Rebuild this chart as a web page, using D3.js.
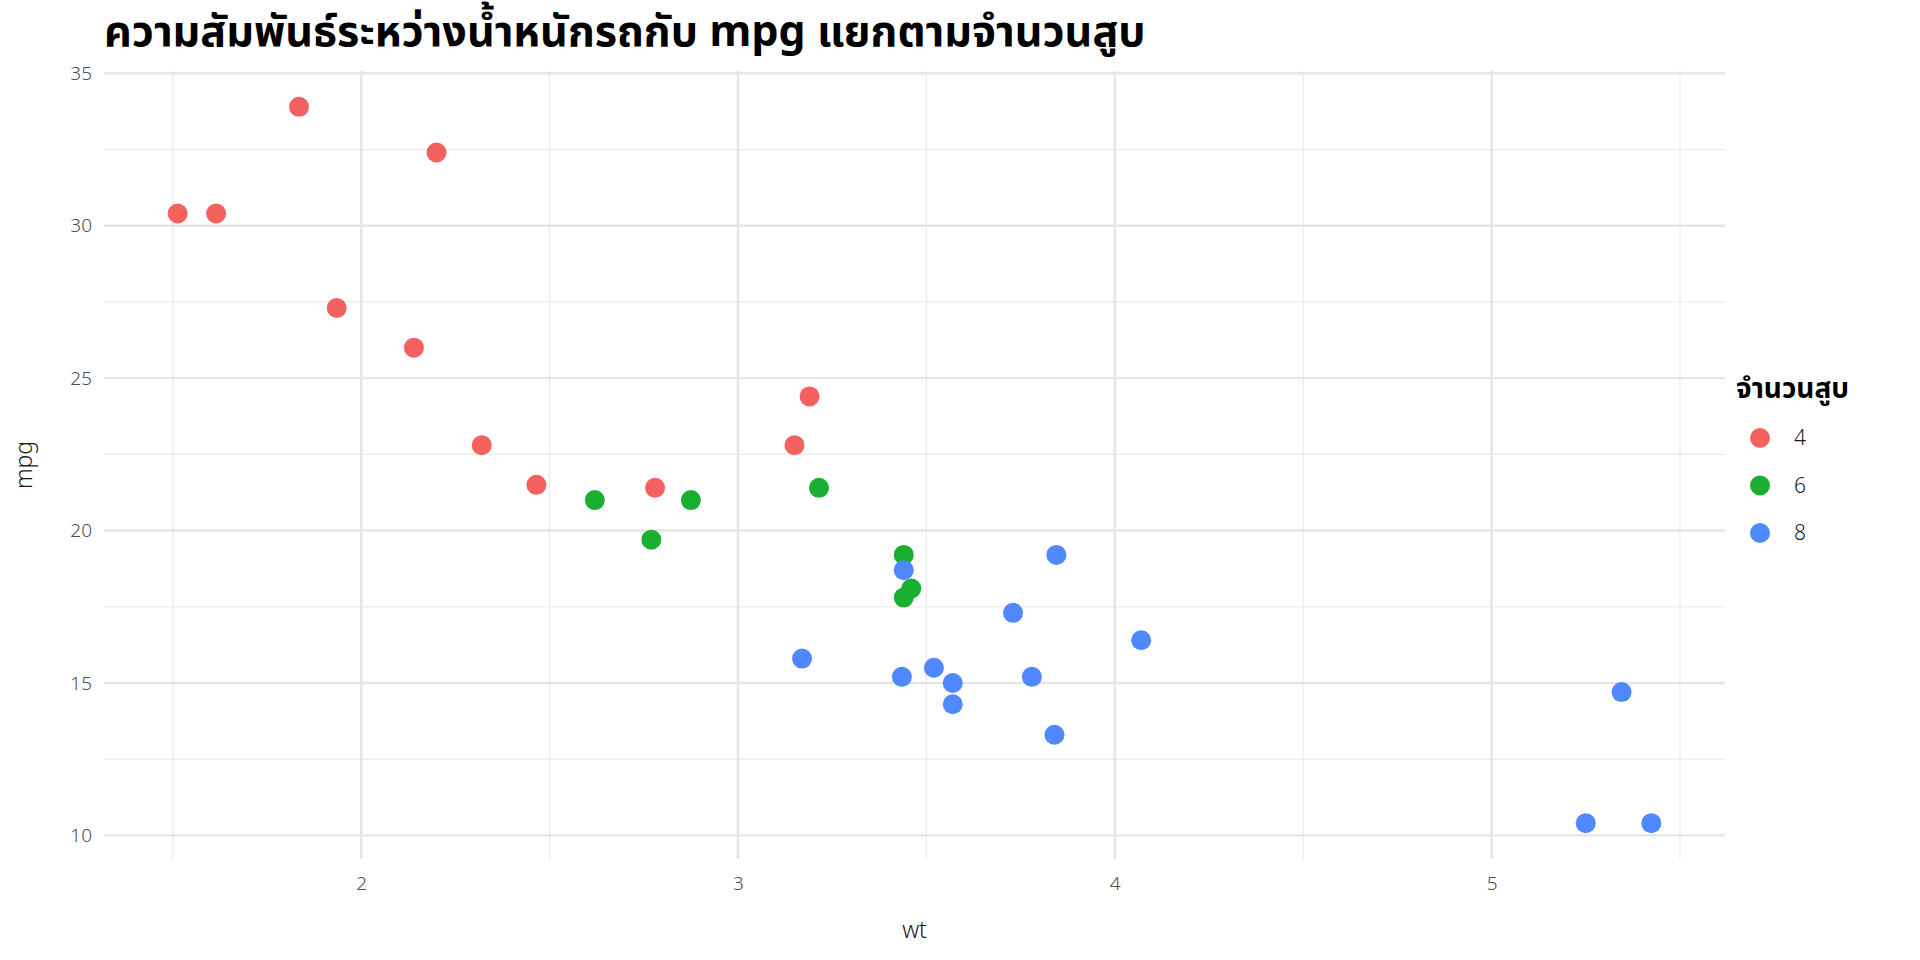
<!DOCTYPE html>
<html>
<head>
<meta charset="utf-8">
<script src="https://cdn.jsdelivr.net/npm/d3@7"></script>
<style>
  body { margin: 0; background: #fff; }
  text { font-family: "Noto Sans Thai", "Noto Sans Thai UI", "Noto Sans", sans-serif; }
</style>
</head>
<body>
<div id="chart"></div>
<script>
// mtcars: weight (1000 lbs) and mpg, split by cylinders
const wt4  = [2.320, 3.190, 3.150, 2.200, 1.615, 1.835, 2.465, 1.935, 2.140, 1.513, 2.780]
const mpg4 = [22.8, 24.4, 22.8, 32.4, 30.4, 33.9, 21.5, 27.3, 26.0, 30.4, 21.4]
const wt6  = [2.620, 2.875, 3.215, 3.460, 3.440, 3.440, 2.770]
const mpg6 = [21.0, 21.0, 21.4, 18.1, 19.2, 17.8, 19.7]
const wt8  = [3.440, 3.570, 4.070, 3.730, 3.780, 5.250, 5.424, 5.345, 3.520, 3.435, 3.840, 3.845, 3.170, 3.570]
const mpg8 = [18.7, 14.3, 16.4, 17.3, 15.2, 10.4, 10.4, 14.7, 15.5, 15.2, 13.3, 19.2, 15.8, 15.0]
const cylLevels = ['4', '6', '8']
const xTicks = [2, 3, 4, 5]
const yTicks = [10, 15, 20, 25, 30, 35]
const xMinor = [1.5, 2.5, 3.5, 4.5, 5.5]
const yMinor = [12.5, 17.5, 22.5, 27.5, 32.5]

const titleText = 'ความสัมพันธ์ระหว่างน้ำหนักรถกับ mpg แยกตามจำนวนสูบ'
const legendTitle = 'จำนวนสูบ'

const groups = [
  {cyl: '4', wt: wt4, mpg: mpg4},
  {cyl: '6', wt: wt6, mpg: mpg6},
  {cyl: '8', wt: wt8, mpg: mpg8}
]
const points = groups.flatMap(g => g.wt.map((w, i) => ({wt: w, mpg: g.mpg[i], cyl: g.cyl})))

const width = 1920, height = 960
const pLeft = 104, pRight = 1725, pTop = 71, pBottom = 859

const expand = (ext) => { const pad = (ext[1] - ext[0]) * 0.05; return [ext[0] - pad, ext[1] + pad] }
const x = d3.scaleLinear().domain(expand(d3.extent(points, d => d.wt))).range([pLeft, pRight])
const y = d3.scaleLinear().domain(expand(d3.extent(points, d => d.mpg))).range([pBottom, pTop])
const color = d3.scaleOrdinal().domain(cylLevels).range(['#F5615E', '#1AAF30', '#5088FF'])

const svg = d3.select('#chart').append('svg')
  .attr('width', width)
  .attr('height', height)

// grid
const grid = svg.append('g')
grid.selectAll('.minx').data(xMinor.filter(v => v > x.domain()[0] && v < x.domain()[1])).enter().append('line')
  .attr('x1', d => x(d)).attr('x2', d => x(d)).attr('y1', pTop).attr('y2', pBottom)
  .attr('stroke', '#ebebeb').attr('stroke-width', 1.2)
grid.selectAll('.miny').data(yMinor).enter().append('line')
  .attr('y1', d => y(d)).attr('y2', d => y(d)).attr('x1', pLeft).attr('x2', pRight)
  .attr('stroke', '#ebebeb').attr('stroke-width', 1.2)
grid.selectAll('.majx').data(xTicks).enter().append('line')
  .attr('x1', d => x(d)).attr('x2', d => x(d)).attr('y1', pTop).attr('y2', pBottom)
  .attr('stroke', '#e5e5e5').attr('stroke-width', 2.4)
grid.selectAll('.majy').data(yTicks).enter().append('line')
  .attr('y1', d => y(d)).attr('y2', d => y(d)).attr('x1', pLeft).attr('x2', pRight)
  .attr('stroke', '#e5e5e5').attr('stroke-width', 2.4)

// axes (labels only, like theme_minimal)
const xAxis = svg.append('g')
  .attr('transform', `translate(0, ${pBottom + 6})`)
  .call(d3.axisBottom(x).tickValues(xTicks).tickFormat(d3.format('d')).tickSize(0).tickPadding(12))
xAxis.select('.domain').remove()
xAxis.selectAll('text').attr('font-size', 19).attr('fill', '#4d4d4d')
  .style('font-family', '"Noto Sans", sans-serif').style('font-weight', 300)

const yAxis = svg.append('g')
  .attr('transform', `translate(${pLeft - 8}, 0)`)
  .call(d3.axisLeft(y).tickValues(yTicks).tickSize(0).tickPadding(4))
yAxis.select('.domain').remove()
yAxis.selectAll('text').attr('font-size', 19).attr('fill', '#4d4d4d')
  .style('font-family', '"Noto Sans", sans-serif').style('font-weight', 300)

svg.append('text')
  .attr('x', (pLeft + pRight) / 2).attr('y', 938)
  .attr('text-anchor', 'middle').attr('font-size', 23).attr('fill', '#1a1a1a')
  .style('font-family', '"Noto Sans", sans-serif').style('font-weight', 300)
  .text('wt')
svg.append('text')
  .attr('transform', `translate(32, ${(pTop + pBottom) / 2}) rotate(-90)`)
  .attr('text-anchor', 'middle').attr('font-size', 23).attr('fill', '#1a1a1a')
  .style('font-family', '"Noto Sans", sans-serif').style('font-weight', 300)
  .text('mpg')

// points
svg.append('g').selectAll('circle').data(points).enter().append('circle')
  .attr('cx', d => x(d.wt))
  .attr('cy', d => y(d.mpg))
  .attr('r', 10)
  .attr('fill', d => color(d.cyl))

// title
svg.append('text')
  .attr('x', 104).attr('y', 46)
  .attr('font-size', 43).attr('font-weight', 'bold').attr('fill', '#000')
  .text(titleText)

// legend
const legend = svg.append('g').attr('transform', 'translate(1736, 0)')
legend.append('text')
  .attr('x', 0).attr('y', 398)
  .attr('font-size', 28).attr('font-weight', 'bold').attr('fill', '#000')
  .text(legendTitle)
const items = legend.selectAll('.item').data(cylLevels).enter().append('g')
  .attr('transform', (d, i) => `translate(0, ${438 + i * 47.5})`)
items.append('circle').attr('cx', 24).attr('cy', 0).attr('r', 10).attr('fill', d => color(d))
items.append('text').attr('x', 58).attr('y', 0).attr('dy', '0.35em')
  .attr('font-size', 21).attr('fill', '#1a1a1a')
  .style('font-family', '"Noto Sans", sans-serif').style('font-weight', 300)
  .text(d => d)
</script>
</body>
</html>
